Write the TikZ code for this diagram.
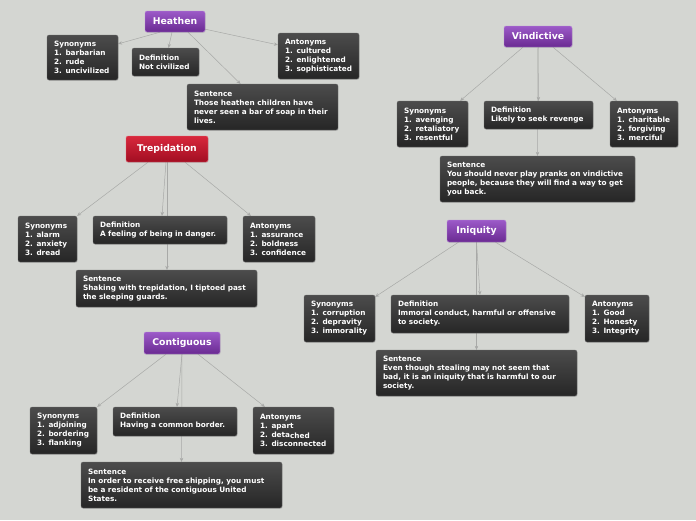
\documentclass[tikz,border=0pt]{standalone}
\usepackage{fontspec}
\setmainfont{DejaVu Sans}
\usetikzlibrary{arrows.meta,backgrounds,shadows}
\hyphenpenalty=10000
\hbadness=10000
\hfuzz=20pt
\definecolor{paper}{HTML}{D4D6D2}
\definecolor{purpletop}{HTML}{9C5AC8}
\definecolor{purplebot}{HTML}{6A2A92}
\definecolor{redtop}{HTML}{D8283C}
\definecolor{redbot}{HTML}{A20E22}
\definecolor{cardtop}{HTML}{4C4C4C}
\definecolor{cardbot}{HTML}{262626}
\definecolor{linkgray}{HTML}{A8A9A7}
\tikzset{
  word/.style={rounded corners=2pt,top color=purpletop,bottom color=purplebot,draw=purpletop!70!white,line width=0.4pt,
    text=white,font=\bfseries\fontsize{9.3}{10}\selectfont,inner sep=0pt,
    drop shadow={shadow xshift=0.5pt,shadow yshift=-0.8pt,opacity=0.25}},
  redword/.style={word,top color=redtop,bottom color=redbot,draw=redtop!70!white},
  card/.style={rounded corners=2pt,top color=cardtop,bottom color=cardbot,draw=cardtop!80!white,line width=0.3pt,
    text=white,font=\bfseries\fontsize{7.3}{9}\selectfont,align=left,inner xsep=7pt,inner ysep=0pt,
    drop shadow={shadow xshift=0.6pt,shadow yshift=-0.8pt,opacity=0.3}},
  link/.style={draw=linkgray,line width=0.5pt,-{Stealth[length=4pt,width=3.5pt]}}
}
\begin{document}
\begin{tikzpicture}[x=1pt,y=-1pt]
  \useasboundingbox (0,0) rectangle (696,520);
  \node[word,minimum width=60pt,minimum height=21pt] (heathen) at (175,21.5) {Heathen};
  \node[card,text width=57pt,minimum height=45pt] (hsyn) at (82.5,57.5) {Synonyms\\1. barbarian\\2. rude\\3. uncivilized};
  \node[card,text width=53pt,minimum height=28pt] (hdef) at (165.5,62) {Definition\\Not civilized};
  \node[card,text width=67pt,minimum height=46pt] (hant) at (318.5,56) {Antonyms\\1. cultured\\2. enlightened\\\mbox{3. sophisticated}};
  \node[card,text width=137pt,minimum height=46pt] (hsen) at (262.5,107) {Sentence\\Those heathen children have\\never seen a bar of soap in their\\lives.};

  \node[word,minimum width=68pt,minimum height=21pt] (vind) at (538,36.5) {Vindictive};
  \node[card,text width=57pt,minimum height=46pt] (vsyn) at (432.5,124) {Synonyms\\1. avenging\\2. retaliatory\\3. resentful};
  \node[card,text width=95pt,minimum height=28pt] (vdef) at (538.5,115) {Definition\\Likely to seek revenge};
  \node[card,text width=54pt,minimum height=46pt] (vant) at (644,124) {Antonyms\\1. charitable\\2. forgiving\\3. merciful};
  \node[card,text width=181pt,minimum height=46pt] (vsen) at (537.5,179) {Sentence\\You should never play pranks on vindictive\\people, because they will find a way to get\\you back.};

  \node[redword,minimum width=82pt,minimum height=26pt] (trep) at (167,149) {Trepidation};
  \node[card,text width=45pt,minimum height=46pt] (tsyn) at (47.5,239) {Synonyms\\1. alarm\\2. anxiety\\3. dread};
  \node[card,text width=120pt,minimum height=28pt] (tdef) at (160,230) {Definition\\A feeling of being in danger.};
  \node[card,text width=58pt,minimum height=46pt] (tant) at (279,239) {Antonyms\\1. assurance\\2. boldness\\3. confidence};
  \node[card,text width=167pt,minimum height=37pt] (tsen) at (166.5,288.5) {Sentence\\Shaking with trepidation, I tiptoed past\\the sleeping guards.};

  \node[word,minimum width=59pt,minimum height=22pt] (iniq) at (476.5,231) {Iniquity};
  \node[card,text width=57pt,minimum height=47pt] (isyn) at (339.5,318.5) {Synonyms\\1. corruption\\2. depravity\\3. immorality};
  \node[card,text width=164pt,minimum height=38pt] (idef) at (480,314) {Definition\\Immoral conduct, harmful or offensive\\to society.};
  \node[card,text width=50pt,minimum height=47pt] (iant) at (617,318.5) {Antonyms\\1. Good\\2. Honesty\\3. Integrity};
  \node[card,text width=187pt,minimum height=46pt] (isen) at (476.5,373) {Sentence\\Even though stealing may not seem that\\bad, it is an iniquity that is harmful to our\\society.};

  \node[word,minimum width=76pt,minimum height=22pt] (cont) at (182,343) {Contiguous};
  \node[card,text width=53pt,minimum height=47pt] (csyn) at (63.5,430.5) {Synonyms\\1. adjoining\\2. bordering\\3. flanking};
  \node[card,text width=110pt,minimum height=29pt] (cdef) at (175,421.5) {Definition\\Having a common border.};
  \node[card,text width=67pt,minimum height=47pt] (cant) at (293.5,430.5) {Antonyms\\1. apart\\2. deta\raisebox{-1pt}{ched}\\3. disconnected};
  \node[card,text width=187pt,minimum height=46pt] (csen) at (181.5,485) {Sentence\\In order to receive free shipping, you must\\be a resident of the contiguous United\\States.};

  \begin{scope}[on background layer]
    \fill[paper] (0,0) rectangle (696,520);
    \draw[link] ([xshift=-15pt]heathen.south) -- ([yshift=-9pt]hsyn.north east);
    \draw[link] ([xshift=-3pt]heathen.south) -- ([xshift=3pt]hdef.north);
    \draw[link] ([xshift=13pt]heathen.south) -- ([xshift=-22pt]hsen.north);
    \draw[link] ([yshift=3pt]heathen.south east) -- ([yshift=-12pt]hant.north west);
    \draw[link] ([xshift=-15pt]vind.south) -- ([xshift=-8pt]vsyn.north east);
    \draw[link] (vind.south) -- (vdef.north);
    \draw[link] (vind.south) -- (vsen.north);
    \draw[link] ([xshift=15pt]vind.south) -- ([xshift=7pt]vant.north west);
    \draw[link] ([xshift=-19pt]trep.south) -- (tsyn.north east);
    \draw[link] ([xshift=-1pt]trep.south) -- ([xshift=2pt]tdef.north);
    \draw[link] (trep.south) -- ([xshift=0.5pt]tsen.north);
    \draw[link] ([xshift=18pt]trep.south) -- ([xshift=8pt]tant.north west);
    \draw[link] ([xshift=-18pt]iniq.south) -- ([yshift=-2pt]isyn.north east);
    \draw[link] (iniq.south) -- (idef.north);
    \draw[link] (iniq.south) -- (isen.north);
    \draw[link] ([xshift=19pt]iniq.south) -- ([yshift=-2pt]iant.north west);
    \draw[link] ([xshift=-16pt]cont.south) -- (csyn.north east);
    \draw[link] (cont.south) -- ([xshift=2pt]cdef.north);
    \draw[link] (cont.south) -- (csen.north);
    \draw[link] ([xshift=16pt]cont.south) -- ([xshift=12pt]cant.north west);
  \end{scope}
\end{tikzpicture}
\end{document}
